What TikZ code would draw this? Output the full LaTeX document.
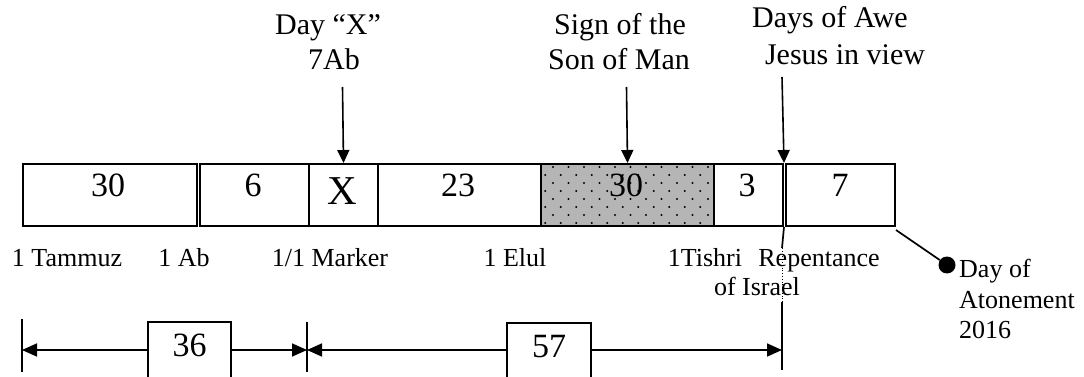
\documentclass[tikz,border=0pt]{standalone}
\usepackage{fontspec}
\setmainfont{Liberation Serif}
\usetikzlibrary{arrows.meta}
\definecolor{shadegray}{RGB}{181,181,181}
\begin{document}
\begin{tikzpicture}[x=1pt,y=-1pt,
  cell/.style={draw, line width=2pt, inner sep=0pt, anchor=north west, minimum height=62pt},
  numtxt/.style={font=\fontsize{34}{38}\selectfont, inner sep=0pt},
  toptxt/.style={font=\fontsize{30}{35}\selectfont, inner sep=0pt, anchor=base},
  bottxt/.style={font=\fontsize{26}{30}\selectfont, inner sep=0pt, anchor=base},
  pointer/.style={line width=1.6pt, -{Triangle[length=13pt,width=12pt]}},
  dimarrow/.style={line width=1.7pt, -{Triangle[length=15pt,width=13pt]}},
  tick/.style={line width=1.7pt},
  valbox/.style={draw, line width=2pt, inner sep=0pt, minimum height=56pt},
]
\useasboundingbox (0,0) rectangle (1084,377);
\fill[white] (0,0) rectangle (1084,377);

% timeline cells
\node[cell, minimum width=174pt] (b1) at (22,163) {};
\node[cell, minimum width=109pt] (b2) at (199,163) {};
\node[cell, minimum width=69pt] (bX) at (308,163) {};
\node[cell, minimum width=163pt] (b23) at (377,163) {};
\node[cell, minimum width=173pt, fill=shadegray] (b30) at (540,163) {};
\begin{scope}
  \clip ([shift={(1pt,-1pt)}]b30.north west) rectangle ([shift={(-1pt,1pt)}]b30.south east);
  \foreach \k in {0,...,7} {
    \pgfmathsetmacro{\yy}{167+8*\k}
    \pgfmathsetmacro{\xs}{mod(\k,2)==0 ? 553 : 545.25}
    \foreach \j in {0,...,11} {
      \fill ({\xs+15.5*\j},\yy) circle (1.1pt);
    }
  }
\end{scope}
\node[cell, minimum width=173pt] at (540,163) {};
\node[cell, minimum width=69pt] (b3) at (713,163) {};
\node[cell, minimum width=109pt] (b7) at (785,163) {};

% cell numbers
\node[numtxt] (n1) at (108,185) {30};
\node[numtxt] (n2) at (253,185) {6};
\node[inner sep=0pt, font=\fontsize{41}{44}\selectfont] (nX) at (342,191) {X};
\node[numtxt] (n23) at (458,185) {23};
\node[numtxt] (n30) at (626,185) {30};
\node[numtxt] (n3) at (747,185) {3};
\node[numtxt] (n7) at (840,185) {7};

% top labels
\node[toptxt] (dayx) at (328,35) {Day “X”};
\node[toptxt] (sevenab) at (334,70) {7Ab};
\node[toptxt] (sign1) at (620,35) {Sign of the};
\node[toptxt] (sign2) at (619,70) {Son of Man};
\node[toptxt] (awe1) at (830,28) {Days of Awe};
\node[toptxt] (awe2) at (845,65) {Jesus in view};

\coordinate (ax) at (342.5,87);
\coordinate (as) at (626.5,87);
\coordinate (aa) at (782,77);
\draw[pointer] (ax) -- (bX.north);
\draw[pointer] (as) -- (b30.north);
\draw[pointer] (aa) -- (b3.north east);

% bottom labels
\node[bottxt] (l1) at (67,266) {1 Tammuz};
\node[bottxt] (l2) at (184,266) {1 Ab};
\node[bottxt] (l3) at (330,266) {1/1 Marker};
\node[bottxt] (l4) at (515,266) {1 Elul};
\node[bottxt] (l5) at (705,266) {1Tishri};
\node[bottxt] (l6) at (819,266) {Repentance};
\node[bottxt] (l7) at (757,295) {of Israel};

% vertical marker line at 1 Tishri + 3
\coordinate (v1) at (782,248);
\coordinate (v2) at (782,302);
\coordinate (v3) at (782,370);
\coordinate (v1m) at (782,350);
\draw[tick] (b3.south east) -- (v1);
\draw[dotted, line width=0.8pt] (v1) -- (v2);
\draw[tick] (v2) -- (v3);

% Day of Atonement
\node[circle, fill=black, minimum size=17pt, inner sep=0pt] (dot) at (947,265) {};
\draw[line width=1.7pt] ([shift={(0pt,-3pt)}]b7.south east) -- (dot);
\node[bottxt, anchor=base west] (da1) at (959,277) {Day of};
\node[bottxt, anchor=base west] (da2) at (959,308) {Atonement};
\node[bottxt, anchor=base west] (da3) at (959,338) {2016};

% dimension row
\coordinate (t1a) at (22,319);
\coordinate (t1b) at (22,372);
\coordinate (t1m) at (22,350);
\coordinate (t2a) at (307,322);
\coordinate (t2b) at (307,372);
\coordinate (t2m) at (307,350);
\draw[tick] (t1a) -- (t1b);
\draw[tick] (t2a) -- (t2b);

\node[valbox, minimum width=83pt] (d36) at (189.5,350) {};
\node[valbox, minimum width=84pt] (d57) at (549,351) {};
\node[numtxt] (n36) at (189.5,345) {36};
\node[numtxt] (n57) at (549,347) {57};

\draw[dimarrow] (d36.west) -- (t1m);
\draw[dimarrow] (d36.east) -- (t2m);
\draw[dimarrow] (d57.west |- t2m) -- (t2m);
\draw[dimarrow] (d57.east |- v1m) -- (v1m);
\end{tikzpicture}
\end{document}
